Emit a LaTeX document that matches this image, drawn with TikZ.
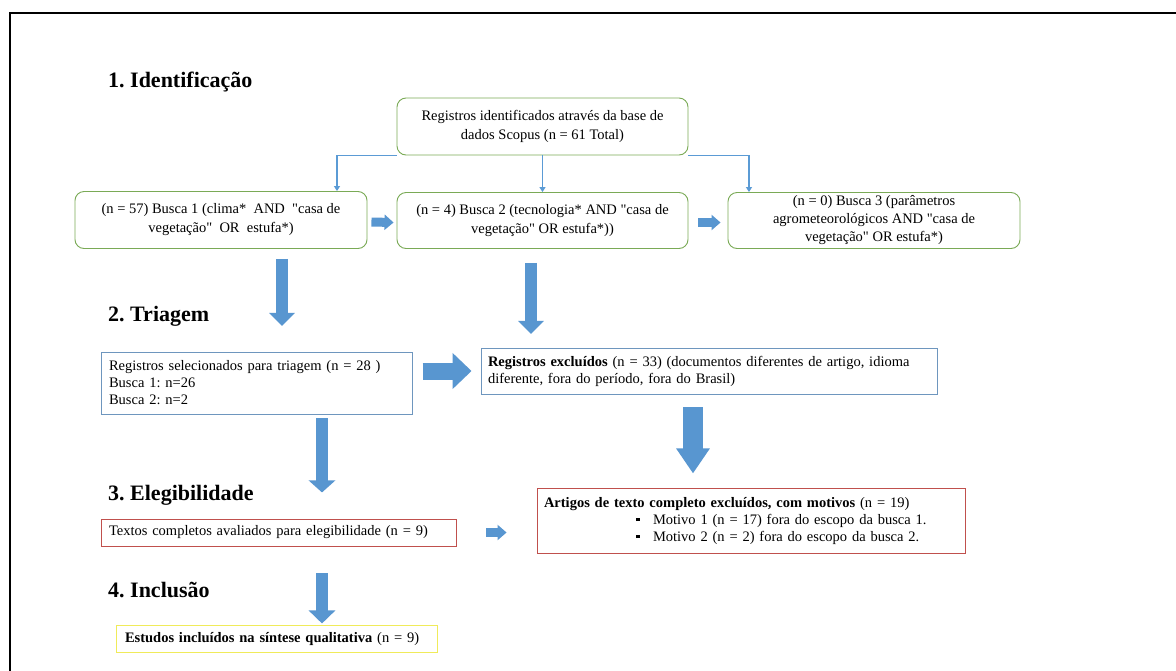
\documentclass[tikz,border=0pt]{standalone}
\usepackage{fontspec}
\setmainfont{Liberation Serif}[Ligatures=TeXOff]
\usetikzlibrary{arrows.meta}
\definecolor{greenb}{RGB}{122,170,86}
\definecolor{lineblue}{RGB}{91,155,213}
\definecolor{blockblue}{RGB}{88,150,208}
\definecolor{boxblue}{RGB}{110,150,190}
\definecolor{redb}{RGB}{192,80,77}
\definecolor{yellowb}{RGB}{240,235,90}
\frenchspacing
\begin{document}
\begin{tikzpicture}[x=1pt,y=-1pt,
  bodyfont/.style={font=\fontsize{14.5}{19}\selectfont},
  gbox/.style={draw=greenb, line width=0.9pt, rounded corners=9pt, align=center, inner sep=0pt, bodyfont},
  sbox/.style={draw=#1, line width=0.9pt, align=left, inner ysep=0pt, bodyfont},
  ttl/.style={anchor=base west, inner sep=0pt, font=\fontsize{22}{26}\selectfont\bfseries},
  conn/.style={draw=lineblue, line width=1.1pt, -{Triangle[width=6pt,length=5pt]}},
  blk/.style n args={3}{color=blockblue, line width=#1, -{Triangle[width=#2,length=#3]}}
]
\useasboundingbox (0,0) rectangle (1176,670);
\fill[white] (0,0) rectangle (1176,670);
% frame
\draw[line width=2.5pt] (10,672) -- (10,13) -- (1178,13);

% titles
\node[ttl] (t1) at (108,87) {1. Identificação};
\node[ttl] (t2) at (108,321) {2. Triagem};
\node[ttl] (t3) at (108,500) {3. Elegibilidade};
\node[ttl] (t4) at (108,597) {4. Inclusão};

% identification boxes
\node[gbox, minimum width=291pt, minimum height=57pt] (top) at (542.5,126.5)
  {Registros identificados através da base de\\dados Scopus (n = 61 Total)};
\node[gbox, minimum width=292pt, minimum height=57pt] (b1) at (221,220)
  {(n = 57) Busca 1 (clima*\ \ AND\ \ "casa de\\vegetação"\ \ OR\ \ estufa*)};
\node[gbox, minimum width=291pt, minimum height=56pt] (b2) at (542.5,220.5)
  {(n = 4) Busca 2 (tecnologia* AND "casa de\\vegetação" OR estufa*))};
\node[gbox, minimum width=292pt, minimum height=56pt, font=\fontsize{14.5}{18}\selectfont] (b3) at (874,220.5)
  {(n = 0) Busca 3 (parâmetros\\agrometeorológicos AND "casa de\\vegetação" OR estufa*)};

% thin connectors
\draw[conn] (top.south west) -| ([xshift=116pt]b1.north);
\draw[conn] (top.south) -- (b2.north);
\draw[conn] (top.south east) -| ([xshift=-125pt]b3.north);

% small block arrows between searches
\draw[blk={9pt}{15pt}{9pt}] ([xshift=4pt,yshift=-2pt]b1.east) -- ([xshift=-3pt,yshift=-2pt]b2.west);
\draw[blk={9pt}{15pt}{9pt}] ([xshift=10pt,yshift=-2pt]b2.east) -- ([xshift=-7pt,yshift=-2pt]b3.west);

% screening boxes
\node[sbox=boxblue, text width=295pt, inner xsep=8pt, minimum height=62pt,
      font=\fontsize{14.5}{17}\selectfont] (tri) at (256.5,383)
  {Registros selecionados para triagem (n = 28 )\\Busca 1: n=26\\Busca 2: n=2};
\node[sbox=boxblue, text width=442pt, inner xsep=7pt, minimum height=46pt,
      font=\fontsize{14.5}{17}\selectfont] (excl) at (709,371)
  {\mbox{\textbf{Registros excluídos} (n = 33) (documentos diferentes de artigo, idioma}\\diferente, fora do período, fora do Brasil)};

% big down arrows from searches
\draw[blk={12pt}{25pt}{13pt}] ([xshift=61pt,yshift=-10pt]b1.south) -- ([xshift=61pt,yshift=-77pt]b1.south);
\draw[blk={12pt}{25pt}{13pt}] ([xshift=-11.5pt,yshift=-14pt]b2.south) -- ([xshift=-11.5pt,yshift=-85pt]b2.south);

% triagem -> excluded
\draw[blk={17pt}{35pt}{19pt}] ([xshift=-58pt]excl.west) -- ([xshift=-9pt]excl.west);

% eligibility boxes
\node[sbox=redb, text width=339pt, inner xsep=8pt, minimum height=27pt] (eleg) at (278.5,532.5)
  {Textos completos avaliados para elegibilidade (n = 9)};
\node[sbox=redb, text width=414pt, inner xsep=7pt, minimum height=65pt,
      font=\fontsize{14.5}{17}\selectfont] (art) at (751,520.5)
  {\mbox{\textbf{Artigos de texto completo excluídos, com motivos} (n = 19)}\\
   \hspace*{92pt}\makebox[17pt][l]{\raisebox{3pt}{\rule{3.5pt}{3.5pt}}}Motivo 1 (n = 17) fora do escopo da busca 1.\\
   \hspace*{92pt}\makebox[17pt][l]{\raisebox{3pt}{\rule{3.5pt}{3.5pt}}}Motivo 2 (n = 2) fora do escopo da busca 2.};

% down arrows to eligibility
\draw[blk={12pt}{26pt}{12pt}] ([xshift=65.5pt,yshift=-4pt]tri.south) -- ([xshift=65.5pt,yshift=-78pt]tri.south);
\draw[blk={20pt}{32pt}{25pt}] ([xshift=-16pt,yshift=-13pt]excl.south) -- ([xshift=-16pt,yshift=-79pt]excl.south);

% eligibility -> excluded articles
\draw[blk={9pt}{15pt}{9pt}] ([xshift=30pt]eleg.east) -- ([xshift=-30pt]eleg.east -| art.west);

% inclusion
\node[sbox=yellowb, text width=303pt, inner xsep=9pt, minimum height=27pt] (inc) at (276.5,638.5)
  {\textbf{Estudos incluídos na síntese qualitativa} (n = 9)};
\draw[blk={12pt}{26pt}{13pt}] ([xshift=43.5pt,yshift=-27pt]eleg.south) -- ([xshift=43.5pt,yshift=-77pt]eleg.south);
\end{tikzpicture}
\end{document}
